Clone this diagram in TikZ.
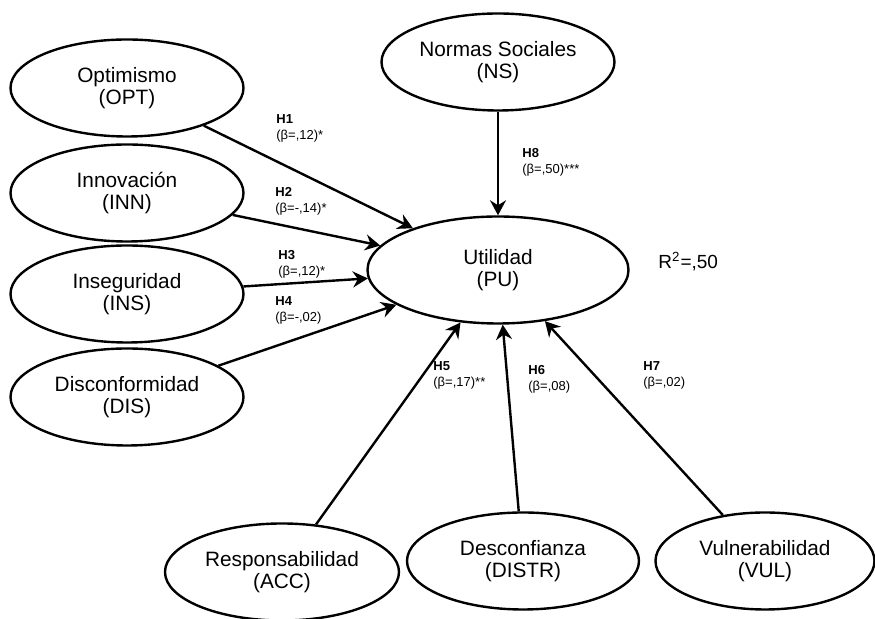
\documentclass[tikz,border=0pt]{standalone}
\usepackage{fontspec}
\setmainfont{Liberation Sans}
\usetikzlibrary{shapes.geometric,arrows.meta}

\begin{document}
\begin{tikzpicture}[x=0.5pt,y=-0.5pt,
  lv/.style={ellipse,draw=black,line width=1.2pt,minimum height=48.5pt,inner sep=0pt,align=center,
    font=\fontsize{10.4}{11.3}\selectfont},
  hyp/.style={draw=black,line width=1.2pt,-{Stealth[length=7.5pt,width=8pt,inset=2.5pt]}},
  lab/.style={font=\fontsize{6.5}{8}\selectfont,align=left,anchor=base west,inner sep=0pt}]
  \useasboundingbox (0,0) rectangle (875,619);
  % latent variables
  \foreach \name/\xx/\yy/\ww/\txt in {OPT/127/88/116.5/Optimismo\\(OPT),INN/127/193/116.5/Innovación\\(INN),
      INS/127/294/116.5/Inseguridad\\(INS),DIS/127/397/116.5/Disconformidad\\(DIS),NS/498/62/116.5/Normas Sociales\\(NS),
      ACC/282/572/117/Responsabilidad\\(ACC),DISTR/523/561/116/Desconfianza\\(DISTR),VUL/765/561/109.5/Vulnerabilidad\\(VUL)}
    \node[lv,minimum width=\ww pt] (\name) at (\xx,\yy) {\txt};
  \node[lv,minimum width=130.5pt,minimum height=53.5pt] (PU) at (498,270) {Utilidad\\(PU)};
  \foreach \src in {OPT,INN,INS,DIS,NS,ACC,DISTR,VUL}
    \draw[hyp] (\src) -- (PU);
  % path coefficients (base = last line)
  \foreach \h/\xx/\yy/\bb in {1/276/140/{(β=,12)*},2/275/213/{(β=-,14)*},3/278/276/{(β=,12)*},4/275/322/{(β=-,02)},
      5/433/387/{(β=,17)**},6/528/391/{(β=,08)},7/643/387/{(β=,02)},8/522/174/{(β=,50)***}}
    \node[lab] (h\h) at (\xx,\yy) {\textbf{H\h}\\\bb};
  \node[lab,font=\fontsize{9.5}{11.3}\selectfont] (rsq) at (658,269) {R\textsuperscript{2}=,50};
\end{tikzpicture}
\end{document}
